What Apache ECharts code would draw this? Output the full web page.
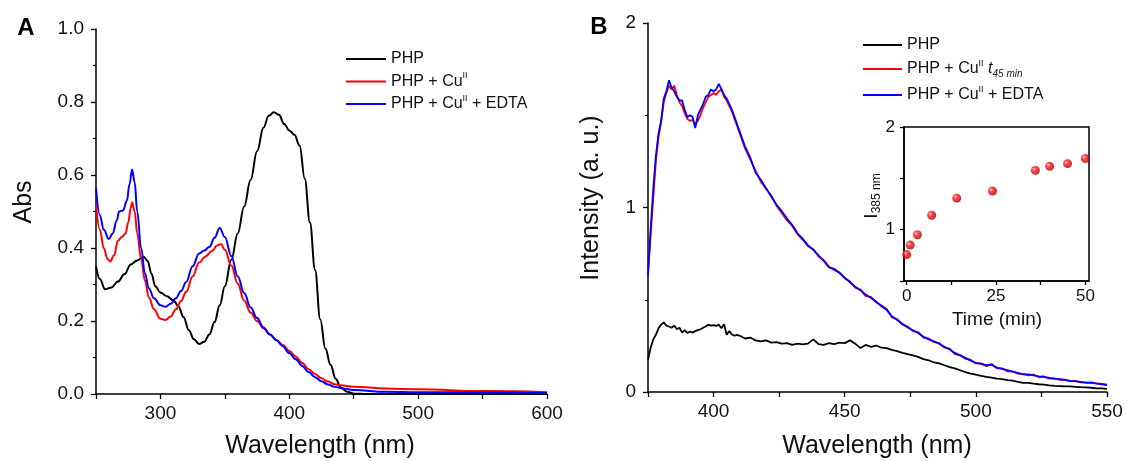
<!DOCTYPE html>
<html>
<head>
<meta charset="utf-8">
<script src="https://cdn.jsdelivr.net/npm/echarts@6/dist/echarts.min.js"></script>
<style>
  html, body { margin: 0; padding: 0; background: #fff; }
  #chartsdiv { width: 1127px; height: 461px; }
</style>
</head>
<body>
<div id="chartsdiv"></div>
<script>
// A: absorption spectra [nm, Abs]
var absPHP = [[250,0.35],[253,0.315],[257,0.287],[262,0.292],[267,0.308],[272,0.328],[277,0.355],[282,0.366],[287,0.376],[290,0.365],[293,0.33],[296,0.295],[300,0.278],[305,0.268],[310,0.257],[314,0.24],[318,0.21],[322,0.175],[326,0.15],[330,0.137],[334,0.143],[338,0.163],[342,0.197],[346,0.243],[350,0.295],[355,0.368],[360,0.44],[365,0.514],[370,0.587],[375,0.665],[380,0.73],[384,0.762],[388,0.772],[392,0.765],[396,0.74],[400,0.722],[404,0.71],[408,0.68],[412,0.59],[416,0.47],[420,0.34],[424,0.205],[428,0.125],[432,0.08],[436,0.042],[440,0.018],[445,0.006],[450,0.001],[460,0],[600,0]];
var absCu = [[250,0.52],[253,0.45],[256,0.40],[259,0.37],[261,0.363],[264,0.38],[267,0.42],[270,0.43],[273,0.44],[275,0.47],[277,0.51],[278,0.525],[280,0.5],[282,0.44],[285,0.37],[288,0.31],[291,0.265],[295,0.232],[300,0.206],[304,0.203],[308,0.212],[312,0.232],[316,0.255],[320,0.28],[325,0.322],[330,0.36],[335,0.377],[340,0.392],[344,0.407],[347,0.411],[350,0.395],[355,0.352],[360,0.302],[365,0.256],[370,0.223],[375,0.2],[380,0.18],[385,0.163],[390,0.148],[395,0.134],[400,0.118],[405,0.102],[410,0.085],[415,0.068],[420,0.055],[425,0.043],[430,0.034],[435,0.027],[440,0.024],[450,0.02],[475,0.015],[500,0.013],[550,0.008],[600,0.005]];
var absEDTA = [[250,0.565],[253,0.49],[256,0.45],[260,0.425],[263,0.44],[266,0.475],[268,0.5],[271,0.503],[274,0.53],[276,0.575],[278,0.615],[280,0.58],[282,0.5],[285,0.4],[288,0.33],[291,0.29],[295,0.262],[300,0.243],[304,0.239],[308,0.247],[312,0.262],[316,0.282],[320,0.307],[325,0.35],[330,0.385],[334,0.393],[338,0.403],[342,0.428],[346,0.455],[350,0.43],[355,0.378],[360,0.322],[365,0.277],[370,0.237],[375,0.208],[380,0.182],[385,0.163],[390,0.147],[395,0.131],[400,0.112],[405,0.095],[410,0.077],[415,0.06],[420,0.046],[425,0.035],[430,0.026],[435,0.02],[440,0.016],[450,0.011],[475,0.006],[500,0.005],[550,0.004],[600,0.003]];

// B: emission spectra [nm, intensity]
var emPHP = [[375,0.176],[376,0.24],[377,0.285],[378,0.31],[379,0.345],[380,0.365],[381,0.377],[382,0.36],[383,0.355],[384,0.348],[385,0.36],[386,0.34],[387,0.348],[388,0.322],[389,0.335],[390,0.32],[391,0.328],[392,0.322],[393,0.33],[394,0.335],[395,0.34],[396,0.348],[397,0.355],[398,0.365],[399,0.36],[400,0.362],[401,0.358],[402,0.365],[403,0.345],[404,0.368],[405,0.31],[406,0.33],[407,0.312],[408,0.305],[409,0.31],[410,0.305],[412,0.29],[414,0.295],[416,0.28],[418,0.275],[420,0.28],[422,0.268],[424,0.27],[426,0.262],[428,0.265],[430,0.255],[432,0.262],[434,0.258],[436,0.262],[438,0.285],[440,0.26],[442,0.256],[444,0.265],[446,0.26],[448,0.268],[450,0.265],[452,0.28],[454,0.262],[456,0.238],[458,0.255],[460,0.245],[462,0.252],[464,0.24],[466,0.238],[468,0.228],[470,0.222],[472,0.212],[474,0.205],[476,0.198],[478,0.19],[480,0.178],[482,0.172],[484,0.16],[486,0.155],[488,0.145],[490,0.135],[492,0.128],[494,0.118],[496,0.108],[498,0.1],[500,0.094],[502,0.088],[504,0.082],[506,0.078],[508,0.072],[510,0.07],[512,0.064],[514,0.062],[516,0.055],[518,0.05],[520,0.049],[522,0.045],[524,0.042],[526,0.04],[528,0.036],[530,0.033],[532,0.032],[534,0.03],[536,0.03],[538,0.028],[540,0.026],[542,0.025],[544,0.023],[546,0.02],[548,0.02],[550,0.017]];
var emCu = [[375,0.65],[376,0.85],[377,1.05],[378,1.25],[379,1.38],[380,1.46],[381,1.57],[382,1.62],[383,1.66],[384,1.64],[385,1.66],[386,1.61],[387,1.57],[388,1.55],[389,1.51],[390,1.48],[391,1.47],[392,1.475],[393,1.45],[394,1.47],[395,1.5],[396,1.54],[397,1.57],[398,1.6],[399,1.61],[400,1.62],[401,1.61],[402,1.63],[403,1.64],[404,1.6],[405,1.58],[406,1.55],[407,1.52],[408,1.48],[409,1.44],[410,1.4],[412,1.32],[414,1.26],[416,1.2],[418,1.14],[420,1.1],[422,1.065],[424,1.01],[426,0.97],[428,0.93],[430,0.9],[432,0.855],[434,0.825],[436,0.79],[438,0.775],[440,0.735],[442,0.715],[444,0.68],[446,0.66],[448,0.648],[450,0.615],[452,0.6],[454,0.565],[456,0.555],[458,0.52],[460,0.515],[462,0.485],[464,0.47],[466,0.45],[468,0.405],[470,0.395],[472,0.365],[474,0.355],[476,0.33],[478,0.325],[480,0.295],[482,0.29],[484,0.27],[486,0.265],[488,0.24],[490,0.235],[492,0.205],[494,0.2],[496,0.18],[498,0.175],[500,0.155],[502,0.155],[504,0.14],[506,0.152],[508,0.128],[510,0.128],[512,0.112],[514,0.112],[516,0.1],[518,0.098],[520,0.09],[522,0.095],[524,0.08],[526,0.084],[528,0.072],[530,0.074],[532,0.066],[534,0.067],[536,0.058],[538,0.06],[540,0.052],[542,0.052],[544,0.048],[546,0.047],[548,0.044],[550,0.04]];
var emEDTA = [[375,0.63],[376,0.88],[377,1.1],[378,1.28],[379,1.4],[380,1.47],[381,1.59],[382,1.63],[383,1.69],[384,1.65],[385,1.63],[386,1.6],[387,1.58],[388,1.58],[389,1.53],[390,1.49],[391,1.5],[392,1.49],[393,1.43],[394,1.5],[395,1.53],[396,1.56],[397,1.6],[398,1.61],[399,1.64],[400,1.63],[401,1.64],[402,1.67],[403,1.64],[404,1.61],[405,1.59],[406,1.56],[407,1.53],[408,1.49],[409,1.45],[410,1.41],[412,1.33],[414,1.27],[416,1.19],[418,1.15],[420,1.105],[422,1.06],[424,1.015],[426,0.98],[428,0.94],[430,0.905],[432,0.86],[434,0.83],[436,0.795],[438,0.77],[440,0.74],[442,0.71],[444,0.675],[446,0.668],[448,0.645],[450,0.62],[452,0.595],[454,0.57],[456,0.552],[458,0.528],[460,0.51],[462,0.49],[464,0.465],[466,0.445],[468,0.41],[470,0.39],[472,0.37],[474,0.35],[476,0.335],[478,0.32],[480,0.3],[482,0.285],[484,0.275],[486,0.262],[488,0.245],[490,0.23],[492,0.212],[494,0.198],[496,0.185],[498,0.17],[500,0.158],[502,0.152],[504,0.145],[506,0.148],[508,0.132],[510,0.125],[512,0.118],[514,0.11],[516,0.104],[518,0.096],[520,0.095],[522,0.09],[524,0.085],[526,0.082],[528,0.076],[530,0.072],[532,0.07],[534,0.065],[536,0.06],[538,0.058],[540,0.055],[542,0.05],[544,0.052],[546,0.045],[548,0.042],[550,0.037]];

// inset: I(385 nm) vs time
var insetTime = [0, 1, 3, 7, 14, 24, 36, 40, 45, 50];
var insetI = [0.757, 0.85, 0.95, 1.14, 1.307, 1.377, 1.577, 1.617, 1.643, 1.693];

var FONT = '"Liberation Sans", Arial, sans-serif';

var myChart = echarts.init(document.getElementById('chartsdiv'));

function axisBase(extra) {
    var o = {
        type: 'value',
        axisLine: { show: true, onZero: false, lineStyle: { color: '#000', width: 1.5 } },
        axisTick: { show: true, inside: false, length: 5, lineStyle: { color: '#000', width: 1.3 } },
        axisLabel: { color: '#111', fontSize: 19, fontFamily: FONT },
        splitLine: { show: false }
    };
    for (var k in extra) {
        if (typeof extra[k] === 'object' && o[k] && !Array.isArray(extra[k])) {
            for (var j in extra[k]) o[k][j] = extra[k][j];
        } else {
            o[k] = extra[k];
        }
    }
    return o;
}

var minor = { show: true, splitNumber: 2, length: 3, lineStyle: { color: '#000', width: 1.2 } };

var insetData = insetTime.map(function (t, i) { return [t, insetI[i]]; });

var ball = new echarts.graphic.RadialGradient(0.35, 0.35, 0.65, [
    { offset: 0, color: '#ffc8c8' },
    { offset: 0.35, color: '#ff1a1a' },
    { offset: 1, color: '#b00000' }
]);

var legendNames = {
    'PHP': '{a|PHP}',
    'PHP + CuII': '{a|PHP + Cu}{s|II}',
    'PHP + CuII t45': '{a|PHP + Cu}{s|II}{a| }{t|t}{b|45 min}',
    'PHP + CuII + EDTA': '{a|PHP + Cu}{s|II}{a| + EDTA}'
};
var richLegend = {
    a: { fontSize: 16, fontFamily: FONT, color: '#111', lineHeight: 20 },
    s: { fontSize: 9, fontFamily: FONT, color: '#111', lineHeight: 10, verticalAlign: 'top' },
    t: { fontSize: 16, fontFamily: FONT, fontStyle: 'italic', color: '#111', lineHeight: 20 },
    b: { fontSize: 10, fontFamily: FONT, fontStyle: 'italic', color: '#111', lineHeight: 12, verticalAlign: 'bottom' }
};

var option = {
    animation: false,
    backgroundColor: '#fff',
    grid: [
        { left: 96, top: 29, width: 451, height: 365 },
        { left: 648, top: 23, width: 459, height: 369 },
        { left: 904, top: 127, width: 185, height: 154, show: true, borderColor: '#000', borderWidth: 1.5, backgroundColor: 'transparent' }
    ],
    xAxis: [
        axisBase({ gridIndex: 0, min: 250, max: 600, interval: 50,
            axisLabel: { margin: 10, formatter: function (v) { return v % 100 === 0 ? v : ''; } } }),
        axisBase({ gridIndex: 1, min: 375, max: 550, interval: 25,
            axisLabel: { margin: 10, formatter: function (v) { return v % 50 === 0 ? v : ''; } } }),
        axisBase({ gridIndex: 2, min: -0.75, max: 51,
            axisTick: { customValues: [0, 12.5, 25, 37.5, 50], length: 4 },
            axisLabel: { fontSize: 17, margin: 7, customValues: [0, 25, 50] } })
    ],
    yAxis: [
        axisBase({ gridIndex: 0, min: 0, max: 1, interval: 0.2, minorTick: minor,
            axisLabel: { margin: 12, formatter: function (v) { return v.toFixed(1); } } }),
        axisBase({ gridIndex: 1, min: 0, max: 2, interval: 1, minorTick: minor,
            axisLabel: { margin: 12 } }),
        axisBase({ gridIndex: 2, min: 0.5, max: 2, interval: 0.5,
            axisTick: { length: 4 },
            axisLabel: { fontSize: 17, margin: 9, formatter: function (v) { return v % 1 === 0 ? v : ''; } } })
    ],
    legend: [
        { orient: 'vertical', left: 341, top: 46, icon: 'rect', itemWidth: 40, itemHeight: 2, itemGap: 4.5,
          data: ['PHP', 'PHP + CuII', 'PHP + CuII + EDTA'],
          formatter: function (n) { return legendNames[n]; },
          textStyle: { rich: richLegend }, selectedMode: false },
        { orient: 'vertical', left: 858, top: 32, icon: 'rect', itemWidth: 39, itemHeight: 2, itemGap: 6,
          data: ['PHP', 'PHP + CuII t45', 'PHP + CuII + EDTA'],
          formatter: function (n) { return legendNames[n]; },
          textStyle: { rich: richLegend }, selectedMode: false }
    ],
    series: [
        { name: 'PHP', type: 'line', xAxisIndex: 0, yAxisIndex: 0, data: absPHP, showSymbol: false, symbol: 'none',
          smooth: 0.4, smoothMonotone: 'x', lineStyle: { color: '#000', width: 2 }, itemStyle: { color: '#000' } },
        { name: 'PHP + CuII', type: 'line', xAxisIndex: 0, yAxisIndex: 0, data: absCu, showSymbol: false, symbol: 'none',
          smooth: 0.4, smoothMonotone: 'x', lineStyle: { color: '#ff0000', width: 2 }, itemStyle: { color: '#ff0000' } },
        { name: 'PHP + CuII + EDTA', type: 'line', xAxisIndex: 0, yAxisIndex: 0, data: absEDTA, showSymbol: false, symbol: 'none',
          smooth: 0.4, smoothMonotone: 'x', lineStyle: { color: '#0000ff', width: 2 }, itemStyle: { color: '#0000ff' } },
        { name: 'PHP', type: 'line', xAxisIndex: 1, yAxisIndex: 1, data: emPHP, showSymbol: false, symbol: 'none',
          lineStyle: { color: '#000', width: 1.8 }, itemStyle: { color: '#000' } },
        { name: 'PHP + CuII t45', type: 'line', xAxisIndex: 1, yAxisIndex: 1, data: emCu, showSymbol: false, symbol: 'none',
          lineStyle: { color: '#ff0000', width: 1.8 }, itemStyle: { color: '#ff0000' } },
        { name: 'PHP + CuII + EDTA', type: 'line', xAxisIndex: 1, yAxisIndex: 1, data: emEDTA, showSymbol: false, symbol: 'none',
          lineStyle: { color: '#0000ff', width: 1.8 }, itemStyle: { color: '#0000ff' } },
        { name: 'I385', type: 'scatter', xAxisIndex: 2, yAxisIndex: 2, data: insetData, symbolSize: 9,
          itemStyle: { color: ball } }
    ],
    graphic: [
        { type: 'text', x: 26, y: 28, style: { text: 'A', fontSize: 24, fontWeight: 'bold', fontFamily: FONT, fill: '#000', align: 'center', verticalAlign: 'middle' } },
        { type: 'text', x: 599, y: 27, style: { text: 'B', fontSize: 24, fontWeight: 'bold', fontFamily: FONT, fill: '#000', align: 'center', verticalAlign: 'middle' } },
        { type: 'text', x: 24, y: 202, rotation: Math.PI / 2, style: { text: 'Abs', fontSize: 25, fontFamily: FONT, fill: '#111', align: 'center', verticalAlign: 'middle' } },
        { type: 'text', x: 320, y: 446, style: { text: 'Wavelength (nm)', fontSize: 25, fontFamily: FONT, fill: '#111', align: 'center', verticalAlign: 'middle' } },
        { type: 'text', x: 591, y: 198, rotation: Math.PI / 2, style: { text: 'Intensity (a. u.)', fontSize: 25, fontFamily: FONT, fill: '#111', align: 'center', verticalAlign: 'middle' } },
        { type: 'text', x: 877, y: 446, style: { text: 'Wavelength (nm)', fontSize: 25, fontFamily: FONT, fill: '#111', align: 'center', verticalAlign: 'middle' } },
        { type: 'text', x: 997, y: 320, style: { text: 'Time (min)', fontSize: 19, fontFamily: FONT, fill: '#111', align: 'center', verticalAlign: 'middle' } },
        { type: 'text', x: 872, y: 196, rotation: Math.PI / 2, style: {
            text: '{i|I}{s|385 nm}', align: 'center', verticalAlign: 'middle',
            rich: {
                i: { fontSize: 19, fontFamily: FONT, fill: '#111', lineHeight: 22 },
                s: { fontSize: 12, fontFamily: FONT, fill: '#111', lineHeight: 12, verticalAlign: 'bottom' }
            } } }
    ]
};

myChart.setOption(option);
</script>
</body>
</html>
